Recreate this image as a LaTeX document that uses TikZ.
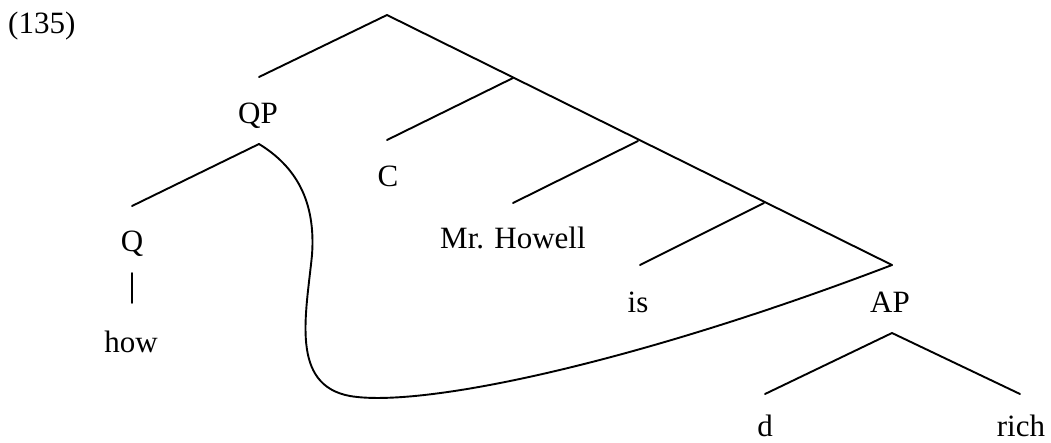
\documentclass[tikz,border=0pt]{standalone}
\usepackage{fontspec}
\setmainfont{Liberation Serif}
\begin{document}
\begin{tikzpicture}[x=1pt,y=-1pt,
  lbl/.style={inner sep=0pt,anchor=base,font=\fontsize{31}{36}\selectfont},
  edge/.style={line width=1.9pt,line cap=round,line join=round}]
\useasboundingbox (0,0) rectangle (1051,442);
% tree points
\coordinate (root) at (387,15);
\coordinate (qptop) at (259,77);
\coordinate (j1) at (513,78);
\coordinate (ctop) at (387,140);
\coordinate (j2) at (638,141);
\coordinate (mhtop) at (513,203);
\coordinate (j3) at (764,203);
\coordinate (istop) at (640,265);
\coordinate (aptop) at (892,265);
\coordinate (qpbot) at (259,144);
\coordinate (qtop) at (132,206);
\coordinate (qbot) at (132,273);
\coordinate (howtop) at (132,303);
\coordinate (apbot) at (892,333);
\coordinate (dtop) at (765,394);
\coordinate (richtop) at (1020,394);
\coordinate (c1) at (312,255);
\coordinate (c2) at (350,396);
% labels
\node[lbl,anchor=base west] (ex) at (8,33) {(135)};
\node[lbl] (QP) at (258,123) {QP};
\node[lbl] (Q) at (132,251) {Q};
\node[lbl] (how) at (131,352) {how};
\node[lbl] (C) at (388,186) {C};
\node[lbl,anchor=base west] (MH) at (440,248) {Mr. Howell};
\node[lbl] (is) at (638,312) {is};
\node[lbl] (AP) at (890,312) {AP};
\node[lbl] (d) at (765,436) {d};
\node[lbl] (rich) at (1021,436) {rich};
% edges
\draw[edge] (qptop) -- (root) -- (aptop);
\draw[edge] (j1) -- (ctop);
\draw[edge] (j2) -- (mhtop);
\draw[edge] (j3) -- (istop);
\draw[edge] (qtop) -- (qpbot);
\draw[edge] (qbot) -- (howtop);
\draw[edge] (dtop) -- (apbot) -- (richtop);
% movement curve
\draw[edge] (qpbot) .. controls (295,166) and (316,200) .. (c1)
  .. controls (306,315) and (290,385) .. (c2)
  .. controls (420,408) and (630,365) .. (aptop);
\end{tikzpicture}
\end{document}
